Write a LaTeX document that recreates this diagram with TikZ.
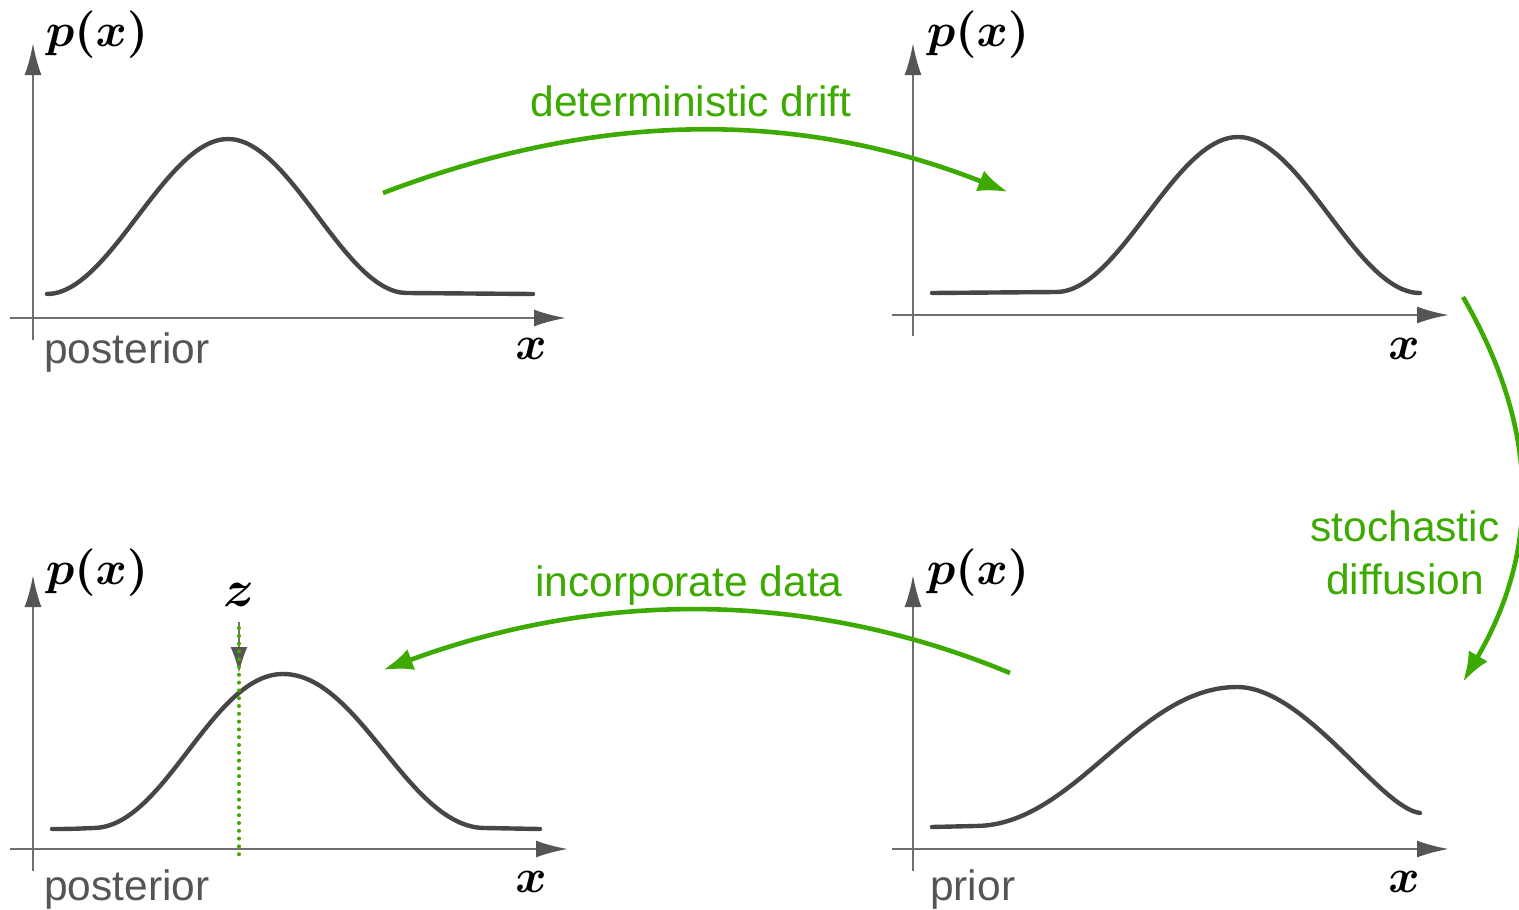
\documentclass[tikz,border=0pt]{standalone}
\usepackage{fontspec}
\newfontfamily\arial{Liberation Sans}
\usetikzlibrary{arrows.meta}
\definecolor{grn}{RGB}{60,170,0}
\definecolor{axisgray}{RGB}{112,112,112}
\definecolor{headgray}{RGB}{85,85,85}
\definecolor{curvegray}{RGB}{70,70,70}
\definecolor{labelgray}{RGB}{85,85,85}
\newcommand\bmath[1]{{\boldmath$#1$}}
\tikzset{
  axisline/.style={draw=axisgray, line width=2.6pt, -{Latex[length=32pt,width=17pt,color=headgray]}},
  density/.style={draw=curvegray, line width=4.4pt, line cap=round, line join=round},
  flow/.style={draw=grn, line width=4.6pt, -{Latex[length=30pt,width=22pt]}},
  mathlab/.style={inner sep=0pt, scale=4.75, font=\normalsize},
  zlab/.style={inner sep=0pt, scale=5.2, font=\normalsize},
  caption/.style={inner sep=0pt, anchor=base, text=labelgray, font=\arial\fontsize{42.5}{51}\selectfont},
  greenlab/.style={inner sep=0pt, anchor=base, text=grn, font=\arial\fontsize{42.5}{51}\selectfont}
}
\begin{document}
\begin{tikzpicture}[x=1pt,y=-1pt]
\useasboundingbox (0,0) rectangle (1519,910);
% ---------- axes ----------
\coordinate (tly0) at (33,340);  \coordinate (tly1) at (33,43);
\coordinate (tlx0) at (10,318);  \coordinate (tlx1) at (566,318);
\coordinate (try0) at (913,336); \coordinate (try1) at (913,43);
\coordinate (trx0) at (892,315); \coordinate (trx1) at (1449,315);
\coordinate (bly0) at (33,871);  \coordinate (bly1) at (33,575);
\coordinate (blx0) at (10,849);  \coordinate (blx1) at (568,849);
\coordinate (bry0) at (913,871); \coordinate (bry1) at (913,575);
\coordinate (brx0) at (892,849); \coordinate (brx1) at (1449,849);
\foreach \ax in {tly,tlx,try,trx,bly,blx,bry,brx}{\draw[axisline] (\ax0) -- (\ax1);}
% ---------- density curves ----------
\draw[density] (47,294) .. controls (110,294) and (165,139) .. (228,139)
  .. controls (291,139) and (344,293) .. (407,293) -- (533,294);
\draw[density] (932,293) -- (1056,292) .. controls (1120,292) and (1174,137) .. (1238,137)
  .. controls (1302,137) and (1356,293) .. (1420,293);
\draw[density] (52,829) .. controls (75,829) and (80,828.5) .. (93,828) .. controls (165,828) and (211,674) .. (283,674)
  .. controls (360,674) and (408,828) .. (485,828) -- (540,829);
\draw[density] (932,827) -- (975,826) .. controls (1075,826) and (1137,687) .. (1237,687)
  .. controls (1305,687) and (1380,808) .. (1420,813);
% ---------- labels ----------
\node[mathlab] (tlp) at (97,35) {\bmath{p(x)}};
\node[mathlab] (trp) at (978,35) {\bmath{p(x)}};
\node[mathlab] (blp) at (97,573) {\bmath{p(x)}};
\node[mathlab] (brp) at (978,573) {\bmath{p(x)}};
\node[mathlab] (tlxl) at (531,349) {\bmath{x}};
\node[mathlab] (trxl) at (1404,349) {\bmath{x}};
\node[mathlab] (blxl) at (531,882) {\bmath{x}};
\node[mathlab] (brxl) at (1404,882) {\bmath{x}};
\node[caption] (tlcap) at (127,363) {posterior};
\node[caption] (blcap) at (127,900) {posterior};
\node[caption, anchor=base west] (brcap) at (930,900) {prior};
% ---------- observation z ----------
\node[zlab] (zl) at (239,595) {\bmath{z}};
\coordinate (za0) at (239,622); \coordinate (za1) at (239,673);
\draw[draw=axisgray, line width=2.2pt, -{Latex[length=26pt,width=17pt,color=headgray]}] (za0) -- (za1);
\coordinate (zd0) at (239,628); \coordinate (zd1) at (239,861);
\draw[grn, line width=4pt, line cap=round, dash pattern=on 0pt off 7.8pt] (zd0) -- (zd1);
% ---------- green flows ----------
\coordinate (f1a) at (383,193); \coordinate (f1b) at (1008,192);
\draw[flow] (f1a) .. controls (600,110) and (800,110) .. (f1b);
\coordinate (f2a) at (1463,297); \coordinate (f2b) at (1463,682);
\draw[flow] (f2a) .. controls (1540,430) and (1540,550) .. (f2b);
\coordinate (f3a) at (1010,673); \coordinate (f3b) at (383,670);
\draw[flow] (f3a) .. controls (810,590) and (600,590) .. (f3b);
\node[greenlab] (drift) at (691,116) {deterministic drift};
\node[greenlab] (incorp) at (689,596) {incorporate data};
\node[greenlab] (stoch1) at (1405,541) {stochastic};
\node[greenlab] (stoch2) at (1405,594) {diffusion};
\end{tikzpicture}
\end{document}
